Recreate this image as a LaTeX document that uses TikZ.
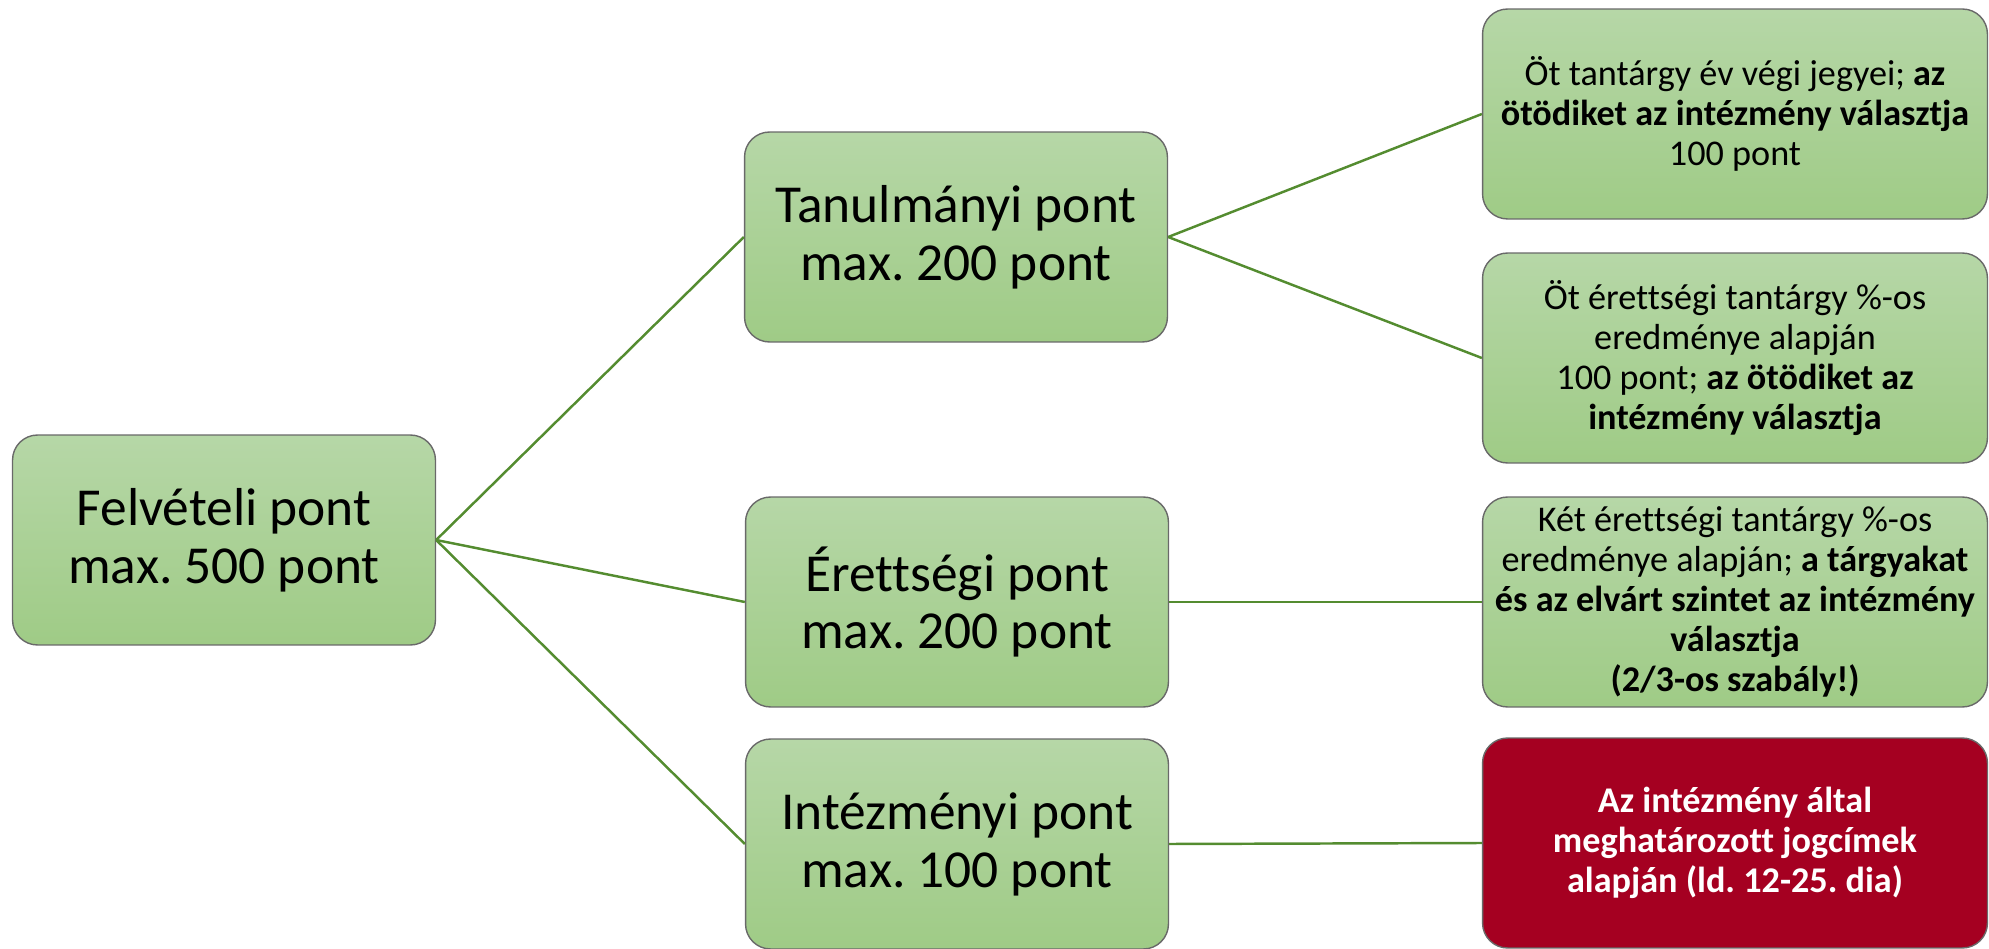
\documentclass[tikz,border=0pt]{standalone}
\usepackage{fontspec}
\setmainfont[Ligatures=NoCommon]{Carlito}
\frenchspacing
\definecolor{boxtop}{RGB}{182,215,167}
\definecolor{boxbottom}{RGB}{159,203,134}
\definecolor{boxedge}{RGB}{105,105,105}
\definecolor{linkgreen}{RGB}{84,140,48}
\definecolor{jogred}{RGB}{165,0,33}
\tikzset{
  pontbox/.style={draw=boxedge, line width=0.8pt, rounded corners=0.5cm, align=center, inner sep=0pt, minimum height=4.2cm},
  zold/.style={top color=boxtop, bottom color=boxbottom},
  fobox/.style={pontbox, zold, minimum width=8.46cm, font=\fontsize{30.4}{33}\selectfont},
  reszbox/.style={pontbox, minimum width=10.1cm, font=\fontsize{20.6}{22.8}\selectfont},
  piros/.style={fill=jogred, text=white},
  link/.style={draw=linkgreen, line width=1.4pt}
}
\begin{document}
\begin{tikzpicture}[x=0.02cm,y=-0.02cm]
    \useasboundingbox (0,0) rectangle (1989,949);
    % bal oldal
    \node[fobox] (felveteli) at (224,540) {Felvételi pont\\max. 500 pont};
    % kozepso oszlop
    \node[fobox] (tanulmanyi) at (956,237) {Tanulmányi pont\\max. 200 pont};
    \node[fobox] (erettsegi) at (957,602) {Érettségi pont\\max. 200 pont};
    \node[fobox] (intezmenyi) at (957,844) {Intézményi pont\\max. 100 pont};
    % jobb oszlop
    \node[reszbox,zold] (evvegi) at (1735,114) {Öt tantárgy év végi jegyei; \textbf{az}\\\textbf{ötödiket az intézmény választja}\\100 pont};
    \node[reszbox,zold] (otos) at (1735,358) {Öt érettségi tantárgy \%-os\\eredménye alapján\\100 pont; \textbf{az ötödiket az}\\\textbf{intézmény választja}};
    \node[reszbox,zold] (kettes) at (1735,602) {Két érettségi tantárgy \%-os\\eredménye alapján; \textbf{a tárgyakat}\\\textbf{és az elvárt szintet az intézmény}\\\textbf{választja}\\\textbf{(2/3-os szabály!)}};
    \node[reszbox,piros] (jogcimek) at (1735,843) {\textbf{Az intézmény által}\\\textbf{meghatározott jogcímek}\\\textbf{alapján (ld. 12-25. dia)}};
    % osszekotesek
    \draw[link] (felveteli.east) -- (tanulmanyi.west);
    \draw[link] (felveteli.east) -- (erettsegi.west);
    \draw[link] (felveteli.east) -- (intezmenyi.west);
    \draw[link] (tanulmanyi.east) -- (evvegi.west);
    \draw[link] (tanulmanyi.east) -- (otos.west);
    \draw[link] (erettsegi.east) -- (kettes.west);
    \draw[link] (intezmenyi.east) -- (jogcimek.west);
\end{tikzpicture}
\end{document}
